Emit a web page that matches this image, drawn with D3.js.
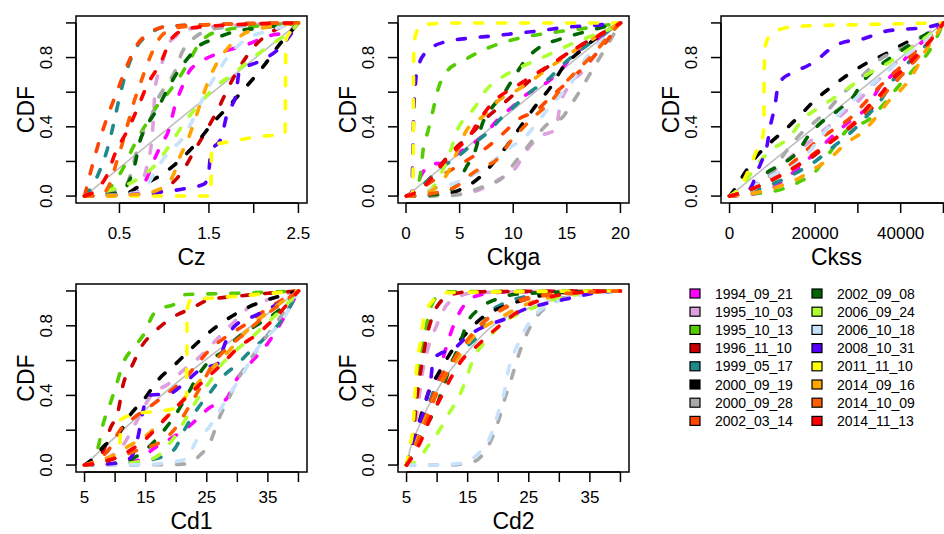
<!DOCTYPE html>
<html><head><meta charset="utf-8">
<script src="https://cdn.jsdelivr.net/npm/d3@7"></script>
<style>body{margin:0;background:#fff}svg{display:block}</style>
</head><body>
<svg id="c" width="944" height="534"></svg>
<script>
const seriesNames = ["1994_09_21","1995_10_03","1995_10_13","1996_11_10","1999_05_17","2000_09_19","2000_09_28","2002_03_14","2002_09_08","2006_09_24","2006_10_18","2008_10_31","2011_11_10","2014_09_16","2014_10_09","2014_11_13"];
const seriesColors = ["#FF00FF","#DDA0DD","#55CC00","#CC0000","#1F8A8A","#000000","#A9A9A9","#FF4500","#006400","#ADFF2F","#C6E2FF","#5500FF","#FFFF00","#FFA500","#FF5F00","#FF0000"];
const yTicks = [0,0.2,0.4,0.6,0.8,1];
const yTickLabels = ["0.0","0.4","0.8"];
const yTickLabelVals = [0,0.4,0.8];

const czTicks = [0.5,1,1.5,2,2.5], czLabels = [0.5,1.5,2.5];
const ckgaTicks = [0,5,10,15,20], ckgaLabels = [0,5,10,15,20];
const ckssTicks = [0,10000,20000,30000,40000,50000], ckssLabels = [0,20000,40000];
const cdTicks = [5,10,15,20,25,30,35,40], cdLabels = [5,15,25,35];

const czRef = [[0.11,0],[2.5,1]];
const cz = [
 [[0.11,0],[0.6,0.005],[0.72,0.03],[0.82,0.12],[0.88,0.2],[0.97,0.3],[1.05,0.38],[1.12,0.52],[1.2,0.63],[1.28,0.72],[1.39,0.77],[1.64,0.83],[1.9,0.87],[2.17,0.925],[2.39,0.95],[2.5,1]],
 [[0.11,0],[0.6,0.02],[0.75,0.08],[0.81,0.18],[0.86,0.32],[0.88,0.45],[0.9,0.63],[0.96,0.74],[1.04,0.87],[1.15,0.93],[1.27,0.965],[1.6,0.98],[2.5,1]],
 [[0.11,0],[0.35,0.02],[0.4,0.05],[0.53,0.15],[0.65,0.28],[0.79,0.41],[0.92,0.52],[1.05,0.6],[1.2,0.71],[1.3,0.8],[1.39,0.88],[1.5,0.93],[1.65,0.955],[2.0,0.98],[2.5,1]],
 [[0.11,0],[0.85,0.01],[1.1,0.08],[1.2,0.14],[1.33,0.255],[1.46,0.37],[1.61,0.51],[1.72,0.63],[1.85,0.75],[2.0,0.86],[2.22,0.954],[2.5,1]],
 [[0.11,0],[0.2,0.06],[0.29,0.16],[0.37,0.28],[0.44,0.43],[0.5,0.57],[0.56,0.69],[0.68,0.85],[0.83,0.935],[1.04,0.98],[1.5,0.99],[2.5,1]],
 [[0.11,0],[0.55,0.01],[0.7,0.05],[0.96,0.12],[1.18,0.21],[1.35,0.3],[1.54,0.42],[1.74,0.53],[1.93,0.64],[2.11,0.75],[2.28,0.87],[2.45,0.97],[2.5,1]],
 [[0.11,0],[0.55,0.05],[0.65,0.17],[0.68,0.235],[0.75,0.35],[0.85,0.45],[0.92,0.55],[1.05,0.66],[1.12,0.72],[1.2,0.83],[1.35,0.92],[1.6,0.97],[2.5,1]],
 [[0.11,0],[0.178,0.14],[0.27,0.31],[0.36,0.45],[0.455,0.58],[0.567,0.73],[0.68,0.86],[0.86,0.95],[1.04,0.98],[1.5,0.99],[2.5,1]],
 [[0.11,0],[0.5,0.02],[0.62,0.1],[0.68,0.2],[0.72,0.3],[0.8,0.4],[0.92,0.5],[1.05,0.63],[1.18,0.74],[1.27,0.8],[1.35,0.85],[1.57,0.91],[1.83,0.955],[2.06,0.97],[2.5,1]],
 [[0.11,0],[0.36,0.03],[0.64,0.08],[0.9,0.18],[1.07,0.3],[1.22,0.42],[1.39,0.53],[1.57,0.63],[1.78,0.71],[2.02,0.81],[2.24,0.89],[2.45,0.97],[2.5,1]],
 [[0.11,0],[0.7,0.02],[0.83,0.08],[0.9,0.14],[1.05,0.255],[1.2,0.33],[1.3,0.42],[1.4,0.53],[1.5,0.63],[1.59,0.71],[1.72,0.81],[1.9,0.9],[2.2,0.96],[2.5,1]],
 [[0.11,0],[0.9,0.02],[1.25,0.045],[1.45,0.07],[1.5,0.15],[1.52,0.25],[1.64,0.34],[1.7,0.47],[1.8,0.58],[1.84,0.72],[2.07,0.78],[2.28,0.85],[2.45,0.96],[2.5,1]],
 [[0.11,0],[1.52,0],[1.53,0.29],[1.8,0.32],[2.0,0.34],[2.35,0.36],[2.36,0.9],[2.45,0.97],[2.5,1]],
 [[0.11,0],[0.7,0.01],[0.95,0.04],[1.1,0.12],[1.17,0.22],[1.26,0.32],[1.35,0.45],[1.44,0.59],[1.56,0.74],[1.72,0.86],[1.92,0.945],[2.2,0.98],[2.5,1]],
 [[0.11,0],[0.3,0.01],[0.4,0.08],[0.47,0.2],[0.53,0.3],[0.6,0.43],[0.66,0.54],[0.74,0.66],[0.84,0.8],[0.96,0.92],[1.12,0.97],[1.5,0.99],[2.5,1]],
 [[0.11,0],[0.25,0.04],[0.36,0.12],[0.455,0.25],[0.6,0.39],[0.7,0.505],[0.81,0.64],[0.96,0.77],[1.09,0.915],[1.29,0.97],[1.8,0.99],[2.5,1]]
];

const ckgaRef = [[0.05,0],[20,1]];
const ckga = [
 [[0.05,0],[0.8,0.04],[1.5,0.13],[2.36,0.185],[3.44,0.19],[5.15,0.26],[7.3,0.355],[8.55,0.44],[10,0.52],[11.2,0.585],[12.9,0.645],[14.3,0.72],[15.6,0.815],[17.4,0.89],[20,1]],
 [[0.05,0],[3,0.005],[5.5,0.015],[7,0.04],[8.5,0.09],[10.26,0.165],[11.2,0.26],[12.6,0.347],[14,0.385],[14.3,0.5],[15.1,0.63],[16.5,0.72],[18,0.845],[19,0.92],[20,1]],
 [[0.05,0],[0.9,0.02],[1.2,0.08],[1.4,0.15],[1.58,0.26],[2.05,0.375],[2.5,0.49],[2.98,0.615],[3.8,0.72],[5.3,0.78],[6.9,0.835],[8.7,0.88],[11.2,0.92],[14.3,0.95],[16.8,0.97],[20,1]],
 [[0.05,0],[1,0.03],[2.2,0.1],[3.5,0.2],[4.5,0.27],[5.77,0.34],[7.47,0.45],[9,0.53],[10.3,0.6],[12,0.69],[14,0.78],[16,0.86],[18,0.93],[20,1]],
 [[0.05,0],[1.2,0.04],[2.2,0.1],[3.3,0.165],[4.68,0.22],[6,0.29],[7.6,0.366],[8.87,0.45],[10.3,0.53],[11.66,0.605],[13.1,0.665],[14.3,0.74],[15.9,0.826],[17.8,0.91],[20,1]],
 [[0.05,0],[3,0.005],[4.3,0.02],[5.15,0.04],[6.85,0.107],[8.25,0.2],[9.65,0.31],[10.9,0.42],[12.2,0.53],[13.5,0.63],[14.6,0.74],[16.2,0.835],[17.9,0.92],[20,1]],
 [[0.05,0],[4,0.003],[5.15,0.01],[7,0.05],[8.87,0.1],[10.5,0.22],[12.16,0.347],[13.5,0.43],[14.5,0.45],[15.3,0.52],[16.2,0.605],[17.1,0.7],[18.7,0.864],[20,1]],
 [[0.05,0],[1.5,0.05],[2.8,0.1],[4.06,0.145],[5.77,0.21],[7.3,0.27],[8.5,0.33],[9.2,0.37],[10.4,0.44],[12.3,0.5],[13.4,0.567],[15.1,0.66],[16.5,0.74],[18,0.84],[20,1]],
 [[0.05,0],[2.8,0.01],[4.5,0.05],[5.6,0.165],[6.55,0.28],[7.0,0.395],[7.9,0.5],[9.2,0.6],[10.1,0.69],[11.2,0.79],[12.6,0.865],[14.3,0.905],[16.8,0.95],[20,1]],
 [[0.05,0],[1.5,0.02],[2.5,0.05],[3.4,0.145],[4.2,0.27],[4.85,0.39],[5.5,0.45],[6.26,0.5],[7.5,0.615],[9.05,0.69],[10.9,0.75],[12.9,0.805],[14.95,0.865],[17.1,0.92],[19,0.965],[20,1]],
 [[0.05,0],[1.5,0.02],[3,0.05],[4.8,0.08],[6.5,0.13],[7.8,0.185],[9.2,0.26],[11.35,0.356],[12.3,0.43],[13.2,0.5],[14.45,0.586],[15.6,0.67],[16.5,0.77],[17.7,0.864],[18.8,0.93],[20,1]],
 [[0.05,0],[0.55,0.02],[0.62,0.2],[0.7,0.45],[0.85,0.62],[1.0,0.72],[1.93,0.835],[3.6,0.89],[5.6,0.91],[8.1,0.925],[10.3,0.94],[12.5,0.955],[14.9,0.975],[17.4,0.985],[20,1]],
 [[0.05,0],[0.6,0.02],[0.68,0.3],[0.7,0.7],[0.75,0.88],[1.0,0.95],[1.5,0.99],[5,1],[20,1]],
 [[0.05,0],[1.5,0.01],[2.8,0.05],[3.9,0.136],[4.8,0.26],[5.6,0.375],[7.16,0.46],[8.74,0.557],[10.3,0.61],[11.8,0.67],[13.1,0.73],[15,0.81],[16.7,0.88],[18.3,0.94],[20,1]],
 [[0.05,0],[2,0.01],[3.5,0.03],[4.8,0.06],[5.95,0.12],[7.2,0.17],[8.28,0.2],[9.8,0.32],[11.8,0.45],[13.7,0.56],[14.95,0.66],[16.2,0.74],[17.7,0.835],[18.9,0.925],[20,1]],
 [[0.05,0],[0.9,0.02],[1.5,0.04],[2.05,0.08],[3.2,0.17],[4.37,0.25],[5.9,0.345],[6.85,0.44],[8.25,0.55],[10.3,0.635],[12.2,0.71],[14,0.78],[15.9,0.855],[17.8,0.92],[20,1]]
];

const ckssRef = [[0,0],[50000,1]];
const ckss = [
 [[0,0],[3000,0.005],[8800,0.03],[12000,0.08],[16000,0.16],[20000,0.25],[25800,0.385],[29000,0.45],[32500,0.52],[34800,0.62],[38000,0.7],[42000,0.82],[46000,0.91],[50000,1]],
 [[0,0],[3000,0.02],[8000,0.1],[14000,0.22],[20000,0.34],[24000,0.42],[27600,0.5],[30100,0.55],[33000,0.63],[37000,0.72],[42000,0.85],[46000,0.93],[50000,1]],
 [[0,0],[4000,0.01],[8000,0.02],[12300,0.04],[16100,0.08],[20000,0.14],[22500,0.22],[25200,0.31],[27800,0.39],[32500,0.44],[36000,0.53],[39500,0.634],[43000,0.73],[47000,0.85],[50000,1]],
 [[0,0],[4000,0.03],[9000,0.08],[14000,0.15],[19000,0.22],[24000,0.32],[29300,0.42],[33000,0.5],[36500,0.6],[39900,0.69],[43000,0.78],[46000,0.87],[50000,1]],
 [[0,0],[4000,0.02],[8000,0.05],[12000,0.09],[16000,0.14],[20000,0.2],[24000,0.28],[29100,0.385],[32000,0.46],[35000,0.54],[38500,0.68],[41000,0.75],[44000,0.826],[47000,0.9],[50000,1]],
 [[0,0],[1500,0.05],[3350,0.126],[6000,0.22],[9600,0.31],[13500,0.395],[16600,0.47],[20100,0.557],[24000,0.634],[27600,0.7],[32200,0.77],[36900,0.826],[41600,0.89],[46300,0.935],[50000,1]],
 [[0,0],[4000,0.02],[9400,0.117],[13000,0.25],[17300,0.375],[20000,0.43],[23100,0.5],[26200,0.586],[29300,0.653],[35800,0.8],[40000,0.85],[45000,0.92],[50000,1]],
 [[0,0],[4000,0.03],[8000,0.08],[12000,0.14],[16000,0.22],[20400,0.318],[24000,0.38],[28200,0.45],[31300,0.53],[34800,0.625],[38000,0.7],[41000,0.77],[44000,0.85],[47000,0.92],[50000,1]],
 [[0,0],[3600,0.04],[6000,0.06],[8800,0.136],[12200,0.184],[16100,0.26],[18400,0.347],[21200,0.42],[25100,0.49],[29000,0.576],[30900,0.653],[34000,0.73],[37700,0.8],[42000,0.87],[50000,1]],
 [[0,0],[3000,0.06],[6500,0.184],[10000,0.27],[13900,0.337],[17000,0.44],[20900,0.51],[24400,0.567],[28300,0.634],[32000,0.7],[36500,0.76],[40000,0.816],[45000,0.9],[50000,1]],
 [[0,0],[5000,0.05],[10000,0.12],[16900,0.21],[21000,0.33],[25100,0.46],[28500,0.54],[31700,0.615],[36000,0.7],[40000,0.79],[45000,0.88],[50000,1]],
 [[0,0],[3000,0.01],[5000,0.05],[6700,0.155],[7500,0.2],[8670,0.28],[9500,0.4],[10600,0.52],[11400,0.644],[12500,0.68],[14500,0.71],[18800,0.76],[20500,0.787],[23000,0.84],[26000,0.883],[31500,0.91],[36100,0.95],[47000,0.98],[50000,1]],
 [[0,0],[2000,0.03],[3500,0.1],[4900,0.175],[6500,0.27],[7500,0.31],[8000,0.4],[8100,0.7],[8300,0.86],[9500,0.93],[11500,0.96],[15900,0.98],[30000,0.99],[50000,1]],
 [[0,0],[4000,0.01],[8000,0.03],[12000,0.06],[16000,0.1],[20000,0.16],[24000,0.23],[27000,0.3],[31300,0.375],[34400,0.46],[37200,0.548],[41000,0.64],[43500,0.73],[45500,0.826],[48000,0.92],[50000,1]],
 [[0,0],[4000,0.03],[8000,0.07],[12000,0.12],[16000,0.18],[20000,0.25],[24000,0.32],[28000,0.4],[31500,0.48],[35000,0.56],[38000,0.64],[41000,0.72],[44000,0.8],[47000,0.9],[50000,1]],
 [[0,0],[4000,0.03],[8000,0.07],[12000,0.12],[18000,0.21],[21900,0.28],[25500,0.347],[29700,0.433],[32500,0.52],[35600,0.596],[37900,0.672],[41000,0.74],[44000,0.82],[47000,0.9],[50000,1]]
];

const cd1Ref = [[5,0],[10,0.16],[15,0.32],[20,0.47],[25,0.61],[30,0.74],[35,0.87],[40,1]];
const cd1 = [
 [[5,0],[10,0.005],[14,0.03],[16.2,0.092],[19,0.15],[22,0.22],[25.5,0.33],[28.2,0.38],[29.8,0.487],[32,0.58],[35,0.7],[38,0.87],[40,1]],
 [[5,0],[8,0.03],[11,0.1],[13.5,0.25],[15.9,0.4],[18.9,0.47],[21,0.54],[23.8,0.62],[27.6,0.757],[30.1,0.844],[32,0.91],[35,0.95],[40,1]],
 [[5,0],[6.2,0.03],[7.2,0.1],[8.05,0.237],[9.1,0.343],[10.2,0.46],[11.3,0.584],[13.2,0.68],[14.8,0.757],[16.2,0.863],[17.5,0.9],[19.5,0.92],[21.6,0.98],[28,0.985],[40,1]],
 [[5,0],[6.5,0.02],[7.5,0.05],[8.3,0.1],[9.1,0.2],[10.5,0.31],[11.3,0.46],[12.7,0.565],[14.3,0.68],[16.5,0.767],[19.2,0.844],[22.5,0.9],[25.4,0.95],[30,0.97],[40,1]],
 [[5,0],[12,0.01],[16,0.03],[19.5,0.083],[21.6,0.218],[23.3,0.314],[25.4,0.41],[27.6,0.507],[30,0.58],[32,0.65],[34.2,0.72],[37,0.82],[40,1]],
 [[5,0],[6.5,0.04],[8.1,0.106],[10.8,0.19],[12.4,0.285],[14.8,0.38],[17,0.487],[19.7,0.574],[22.5,0.67],[25.2,0.757],[28,0.83],[31.4,0.9],[35,0.95],[38,0.98],[40,1]],
 [[5,0],[18,0.002],[21.1,0.005],[24,0.06],[25.4,0.12],[27.1,0.276],[28.7,0.39],[30.3,0.507],[32,0.6],[34,0.7],[36,0.8],[38,0.9],[40,1]],
 [[5,0],[7,0.03],[9,0.09],[10.8,0.2],[13,0.27],[15.6,0.333],[18.5,0.41],[21.1,0.487],[23.3,0.574],[25.4,0.66],[28.2,0.738],[31,0.8],[35,0.9],[40,1]],
 [[5,0],[10,0.01],[13,0.04],[15.4,0.1],[18,0.2],[20,0.295],[21.6,0.39],[23.8,0.526],[25.5,0.6],[27.6,0.65],[30.3,0.738],[33,0.8],[36.5,0.88],[40,1]],
 [[5,0],[10,0.005],[14,0.02],[16.7,0.046],[19.5,0.15],[21.4,0.256],[23.5,0.38],[25.5,0.48],[27.1,0.565],[29.5,0.65],[32.5,0.738],[35,0.82],[38,0.92],[40,1]],
 [[5,0],[15,0.003],[17.8,0.01],[21.6,0.035],[23.3,0.14],[25.4,0.218],[27.3,0.324],[29,0.42],[31,0.53],[33.1,0.66],[35,0.74],[37.4,0.834],[39,0.93],[40,1]],
 [[5,0],[10,0.01],[12.5,0.04],[13.8,0.17],[14.5,0.3],[15.4,0.4],[18.9,0.41],[21,0.46],[24,0.55],[26.8,0.584],[28,0.7],[29.5,0.796],[33,0.86],[37.4,0.94],[40,1]],
 [[5,0],[8,0.02],[10,0.06],[10.8,0.13],[10.9,0.26],[12,0.28],[14.4,0.3],[17.4,0.31],[20.1,0.33],[21.7,0.4],[21.75,0.7],[21.8,0.9],[22.5,0.95],[26,0.96],[30,0.97],[35,0.985],[40,1]],
 [[5,0],[7,0.02],[9.1,0.045],[11.8,0.1],[15.1,0.17],[17.8,0.256],[20,0.33],[23,0.45],[25.7,0.55],[28.5,0.65],[31,0.75],[34,0.85],[37,0.93],[40,1]],
 [[5,0],[8,0.02],[11,0.05],[14,0.09],[17.8,0.14],[20,0.218],[22,0.33],[24,0.45],[26,0.58],[28,0.66],[31,0.75],[35,0.87],[38,0.95],[40,1]],
 [[5,0],[7,0.01],[10,0.04],[12.4,0.083],[15,0.15],[17.5,0.24],[19.5,0.314],[22,0.4],[25,0.5],[27.6,0.584],[30.3,0.68],[33.1,0.747],[36,0.84],[40,1]]
];

const cd2Ref = [[5,0],[5.5,0.08],[7,0.22],[10,0.43],[12.5,0.56],[15.1,0.655],[17.5,0.75],[19.8,0.82],[22.5,0.87],[25.3,0.905],[28,0.94],[31.35,0.97],[35,0.99],[40,1]];
const cd2 = [
 [[5,0],[5.8,0.05],[6.6,0.106],[7.5,0.18],[8.25,0.26],[9.2,0.38],[10.2,0.51],[11.55,0.684],[12.9,0.82],[14.6,0.925],[17.3,0.98],[22,0.995],[40,1]],
 [[5,0],[5.8,0.1],[6.5,0.25],[7.1,0.4],[7.7,0.55],[8.5,0.67],[9.9,0.8],[11.3,0.906],[13.2,0.96],[16,0.99],[40,1]],
 [[5,0],[5.6,0.1],[6.1,0.2],[6.4,0.32],[6.7,0.43],[7.0,0.55],[7.5,0.66],[8.0,0.75],[8.6,0.86],[9.4,0.94],[10.5,0.98],[12,0.995],[40,1]],
 [[5,0],[5.7,0.1],[6.2,0.22],[6.6,0.36],[7.0,0.47],[7.6,0.6],[8.2,0.72],[9.3,0.86],[10.7,0.944],[12.5,0.98],[15,0.995],[40,1]],
 [[5,0],[5.9,0.06],[7,0.17],[8.2,0.3],[9.5,0.43],[11,0.52],[12.5,0.6],[14,0.66],[15.5,0.7],[17,0.76],[18.15,0.857],[21,0.93],[25,0.97],[30,0.99],[40,1]],
 [[5,0],[5.8,0.08],[6.6,0.18],[7.5,0.3],[8.8,0.434],[10.45,0.54],[12.5,0.66],[14.85,0.76],[17.5,0.85],[21.2,0.915],[24.75,0.954],[28,0.98],[32,0.995],[40,1]],
 [[5,0],[12,0.0],[16,0.02],[18.15,0.096],[20.1,0.26],[21.2,0.395],[22.2,0.5],[23.1,0.607],[24.5,0.74],[26.4,0.857],[28.6,0.925],[31.5,0.97],[35,0.99],[40,1]],
 [[5,0],[6,0.08],[7.2,0.2],[8.5,0.32],[9.6,0.42],[10.7,0.51],[12.6,0.607],[15.1,0.713],[17,0.8],[19.5,0.87],[22.5,0.935],[26,0.97],[32,0.99],[40,1]],
 [[5,0],[5.8,0.05],[6.8,0.13],[7.8,0.2],[8.8,0.26],[9.9,0.337],[11,0.45],[12.2,0.57],[13.75,0.7],[14.85,0.81],[16.8,0.896],[19.8,0.954],[24,0.985],[40,1]],
 [[5,0],[6,0.01],[7.2,0.04],[8.25,0.096],[10.2,0.19],[12,0.3],[13.75,0.405],[14.8,0.5],[15.9,0.607],[18.15,0.72],[20.9,0.82],[25.3,0.896],[29,0.95],[34,0.985],[40,1]],
 [[5,0],[9.35,0],[13.75,0.01],[16.5,0.058],[18.7,0.164],[20,0.3],[21,0.42],[21.7,0.55],[23.1,0.684],[24.75,0.8],[26.5,0.88],[29,0.93],[33,0.97],[37,0.99],[40,1]],
 [[5,0],[5.6,0.05],[6.4,0.15],[7.2,0.25],[8.0,0.33],[8.35,0.387],[9.0,0.5],[9.35,0.607],[10.5,0.64],[12.6,0.665],[15,0.74],[18,0.8],[21.2,0.84],[24,0.89],[27.5,0.925],[32,0.96],[36,0.99],[40,1]],
 [[5,0],[5.5,0.1],[6.0,0.2],[6.3,0.35],[6.5,0.48],[6.7,0.58],[7.3,0.71],[7.8,0.84],[9.2,0.94],[11.5,0.99],[40,1]],
 [[5,0],[5.9,0.06],[7,0.17],[8.5,0.3],[9.7,0.4],[11.3,0.51],[13.5,0.62],[15.5,0.72],[17.6,0.79],[20,0.84],[24,0.915],[28,0.96],[32,0.985],[40,1]],
 [[5,0],[6.1,0.07],[7.3,0.18],[8.7,0.3],[9.8,0.4],[11.2,0.5],[13,0.62],[15,0.72],[17.5,0.82],[20,0.88],[23.5,0.94],[27,0.97],[33,0.99],[40,1]],
 [[5,0],[6.2,0.06],[7.5,0.15],[9,0.28],[10.5,0.38],[12.1,0.49],[14,0.6],[16.5,0.684],[19.2,0.77],[22,0.85],[24.75,0.915],[28,0.96],[33,0.99],[40,1]]
];

const panels = [
 {title:"Cz",   data:cz,   ref:czRef,   xmin:0.11, xmax:2.5,  ticks:czTicks,   labels:czLabels,   box:[76,16,307,203],  lab:30, tit:54},
 {title:"Ckga", data:ckga, ref:ckgaRef, xmin:0.05, xmax:20,   ticks:ckgaTicks, labels:ckgaLabels, box:[398,16,629,203], lab:30, tit:54},
 {title:"Ckss", data:ckss, ref:ckssRef, xmin:0,    xmax:50000,ticks:ckssTicks, labels:ckssLabels, box:[721,16,952,203], lab:30, tit:54},
 {title:"Cd1",  data:cd1,  ref:cd1Ref,  xmin:5,    xmax:40,   ticks:cdTicks,   labels:cdLabels,   box:[76,284,307,472],  lab:25, tit:49},
 {title:"Cd2",  data:cd2,  ref:cd2Ref,  xmin:5,    xmax:40,   ticks:cdTicks,   labels:cdLabels,   box:[398,284,629,472], lab:25, tit:49}
];

const svg = d3.select("#c");
const FONT = "'Liberation Sans Narrow','Liberation Sans',Arial,sans-serif";
const TICK = 10;

panels.forEach((p,pi)=>{
  const [L,T,R,B] = p.box;
  const xr = p.xmax - p.xmin, ext = 0.04*xr;
  const x = d3.scaleLinear().domain([p.xmin-ext, p.xmax+ext]).range([L,R]);
  const y = d3.scaleLinear().domain([-0.04,1.04]).range([B,T]);
  const g = svg.append("g");
  const clipId = "clip"+pi;
  g.append("clipPath").attr("id",clipId).append("rect").attr("x",L).attr("y",T).attr("width",R-L).attr("height",B-T);
  const plot = g.append("g").attr("clip-path",`url(#${clipId})`);
  const line = d3.line().x(d=>x(d[0])).y(d=>y(d[1])).curve(d3.curveMonotoneX);
  plot.append("path").attr("d",line(p.ref)).attr("fill","none").attr("stroke","#BEBEBE").attr("stroke-width",1.6);
  p.data.forEach((s,i)=>{
    plot.append("path").attr("d",line(s)).attr("fill","none")
      .attr("stroke",seriesColors[i]).attr("stroke-width",3.6)
      .attr("stroke-dasharray","8,15").attr("stroke-linecap","round").attr("stroke-linejoin","round");
  });
  g.append("rect").attr("x",L).attr("y",T).attr("width",R-L).attr("height",B-T)
    .attr("fill","none").attr("stroke","#000").attr("stroke-width",1.5);
  const xa = g.append("g");
  xa.append("line").attr("x1",x(p.ticks[0])).attr("x2",x(p.ticks[p.ticks.length-1])).attr("y1",B).attr("y2",B).attr("stroke","#000").attr("stroke-width",1.5);
  p.ticks.forEach(t=>{
    xa.append("line").attr("x1",x(t)).attr("x2",x(t)).attr("y1",B).attr("y2",B+TICK).attr("stroke","#000").attr("stroke-width",1.5);
  });
  p.labels.forEach(t=>{
    xa.append("text").attr("x",x(t)).attr("y",B+p.lab).attr("text-anchor","middle").attr("dominant-baseline","central")
      .attr("font-family",FONT).attr("font-size",17).text(String(t));
  });
  xa.append("text").attr("x",(L+R)/2).attr("y",B+p.tit).attr("text-anchor","middle").attr("dominant-baseline","central")
    .attr("font-family",FONT).attr("font-size",23).text(p.title);
  const ya = g.append("g");
  ya.append("line").attr("x1",L).attr("x2",L).attr("y1",y(0)).attr("y2",y(1)).attr("stroke","#000").attr("stroke-width",1.5);
  yTicks.forEach(t=>{
    ya.append("line").attr("x1",L-TICK).attr("x2",L).attr("y1",y(t)).attr("y2",y(t)).attr("stroke","#000").attr("stroke-width",1.5);
  });
  yTickLabelVals.forEach((t,k)=>{
    ya.append("text").attr("transform",`translate(${L-30},${y(t)}) rotate(-90)`).attr("text-anchor","middle").attr("dominant-baseline","central")
      .attr("font-family",FONT).attr("font-size",17).text(yTickLabels[k]);
  });
  ya.append("text").attr("transform",`translate(${L-50},${(T+B)/2}) rotate(-90)`).attr("text-anchor","middle").attr("dominant-baseline","central")
    .attr("font-family",FONT).attr("font-size",23).text("CDF");
});

const leg = svg.append("g");
seriesNames.forEach((n,i)=>{
  const col = Math.floor(i/8), row = i%8;
  const sx = col===0 ? 690 : 812;
  const cy = 293.5 + row*18.2;
  leg.append("rect").attr("x",sx).attr("y",cy-4.5).attr("width",10).attr("height",9)
    .attr("fill",seriesColors[i]).attr("stroke","#000").attr("stroke-width",1.2);
  leg.append("text").attr("x",sx+25).attr("y",cy).attr("dominant-baseline","central")
    .attr("font-family","'Liberation Sans',Arial,sans-serif").attr("font-size",14).text(n);
});
</script>
</body></html>
